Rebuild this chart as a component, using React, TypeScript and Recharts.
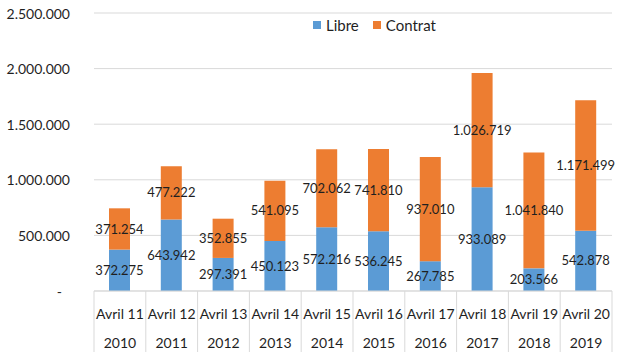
import { BarChart, Bar, XAxis, YAxis, CartesianGrid, Legend, LabelList } from "recharts";

const periods = ["Avril 11", "Avril 12", "Avril 13", "Avril 14", "Avril 15", "Avril 16", "Avril 17", "Avril 18", "Avril 19", "Avril 20"];
const years = ["2010", "2011", "2012", "2013", "2014", "2015", "2016", "2017", "2018", "2019"];
const libre = [372275, 643942, 297391, 450123, 572216, 536245, 267785, 933089, 203566, 542878];
const contrat = [371254, 477222, 352855, 541095, 702062, 741810, 937010, 1026719, 1041840, 1171499];
const yTicks = [0, 500000, 1000000, 1500000, 2000000, 2500000];

const data = periods.map((p, i) => ({ key: i, period: p, year: years[i], libre: libre[i], contrat: contrat[i] }));

const FONT = "Lato, 'Open Sans', sans-serif";
const GRID = "#d9d9d9";
const BLUE = "#5b9bd5";
const ORANGE = "#ed7d31";
const TEXT = "#1f1f1f";

const fmt = (v: number) => String(Math.round(v)).replace(/\B(?=(\d{3})+(?!\d))/g, ".");

const YTick = (props: any) => {
  const { x, y, payload } = props;
  const v = payload.value;
  return (
    <text x={v === 0 ? x - 8 : x} y={y} textAnchor="end" dominantBaseline="central" fill={TEXT} fontSize={14} fontFamily={FONT}>
      {v === 0 ? "-" : fmt(v)}
    </text>
  );
};

const XTick = (props: any) => {
  const { x, y, payload, index } = props;
  const band = 51.8;
  const d = data[payload.value];
  const left = x - band / 2;
  return (
    <g>
      <line x1={left} y1={y} x2={left} y2={y + 61} stroke={GRID} />
      {index === data.length - 1 && <line x1={left + band} y1={y} x2={left + band} y2={y + 61} stroke={GRID} />}
      <text x={x} y={y + 22} textAnchor="middle" dominantBaseline="central" fill={TEXT} fontSize={14} fontFamily={FONT}>
        {d.period}
      </text>
      <text x={x} y={y + 51} textAnchor="middle" dominantBaseline="central" fill={TEXT} fontSize={14} fontFamily={FONT}>
        {d.year}
      </text>
    </g>
  );
};

const LegendContent = () => (
  <div style={{ display: "flex", alignItems: "center", fontFamily: FONT, fontSize: 15, color: TEXT }}>
    <span style={{ width: 8, height: 8, background: BLUE, display: "inline-block", marginRight: 5 }} />
    <span style={{ marginRight: 14 }}>Libre</span>
    <span style={{ width: 8, height: 8, background: ORANGE, display: "inline-block", marginRight: 5 }} />
    <span>Contrat</span>
  </div>
);

export default function App() {
  return (
    <div style={{ position: "absolute", left: 0, top: 0, background: "#fff" }}>
      <BarChart width={625} height={357} data={data} margin={{ top: 13, right: 13, left: 0, bottom: 0 }}>
        <CartesianGrid vertical={false} stroke={GRID} />
        <XAxis
          dataKey="key"
          height={66}
          tickSize={0}
          tickMargin={0}
          tickLine={false}
          axisLine={{ stroke: GRID }}
          tick={<XTick />}
          interval={0}
        />
        <YAxis
          width={94}
          domain={[0, 2500000]}
          ticks={yTicks}
          axisLine={false}
          tickLine={false}
          tickSize={0}
          tickMargin={24}
          tick={<YTick />}
        />
        <Legend
          verticalAlign="middle"
          layout="horizontal"
          content={<LegendContent />}
          wrapperStyle={{ position: "absolute", left: 313, top: 16, width: 150, height: 20 }}
        />
        <Bar dataKey="libre" name="Libre" stackId="a" fill={BLUE} barSize={21} isAnimationActive={false}>
          <LabelList dataKey="libre" position="center" formatter={(v: any) => fmt(Number(v))} fill={TEXT} fontSize={13} fontFamily={FONT} />
        </Bar>
        <Bar dataKey="contrat" name="Contrat" stackId="a" fill={ORANGE} barSize={21} isAnimationActive={false}>
          <LabelList dataKey="contrat" position="center" formatter={(v: any) => fmt(Number(v))} fill={TEXT} fontSize={13} fontFamily={FONT} />
        </Bar>
      </BarChart>
    </div>
  );
}
